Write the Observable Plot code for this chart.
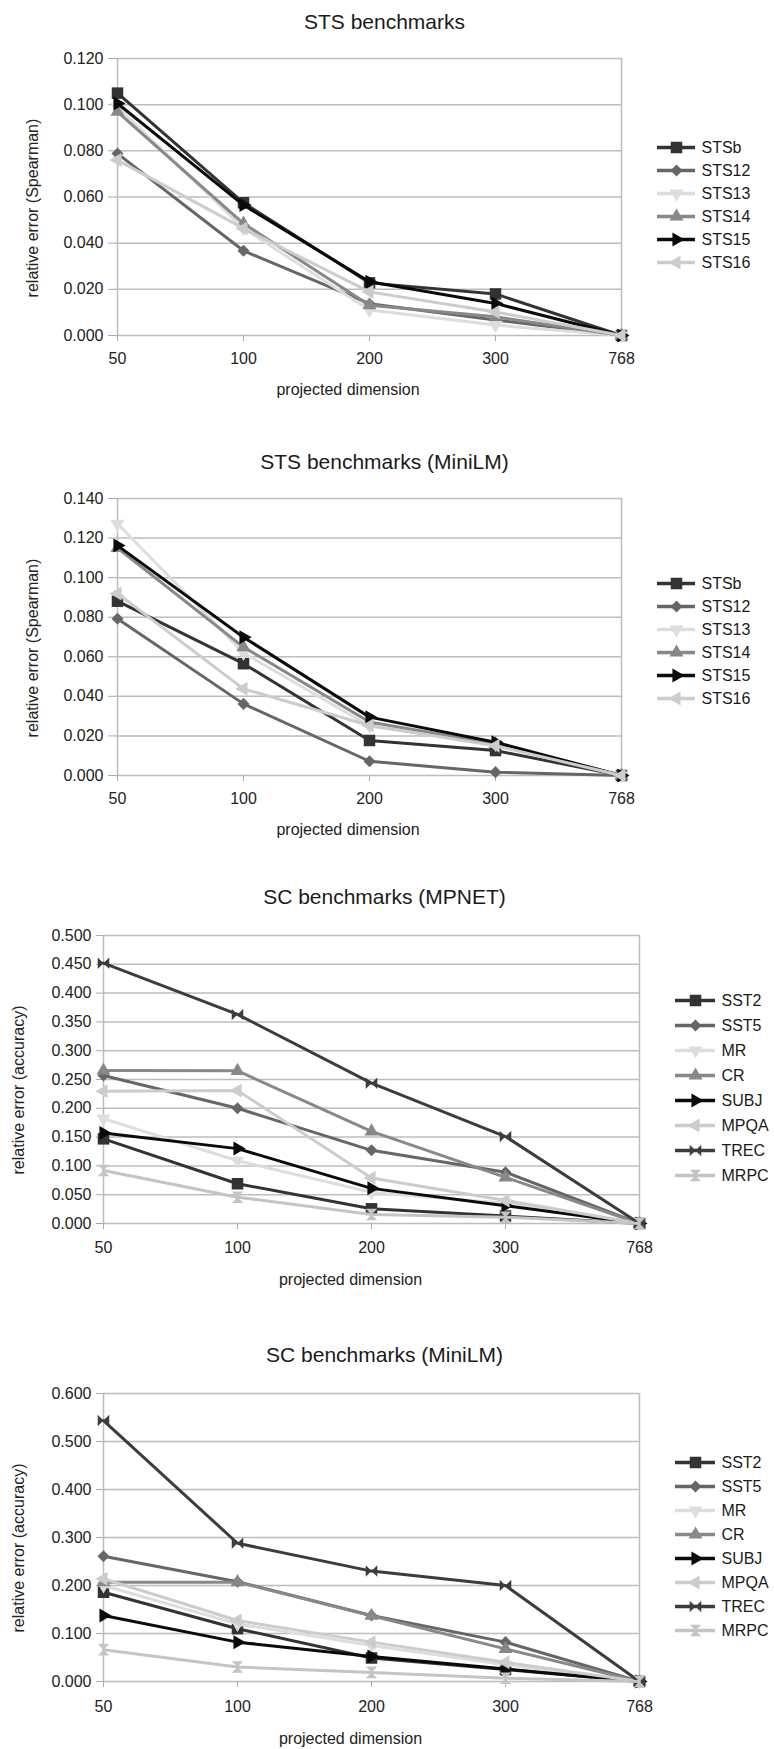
<!DOCTYPE html>
<html>
<head>
<meta charset="utf-8">
<script src="https://cdn.jsdelivr.net/npm/d3@7"></script>
<script src="https://cdn.jsdelivr.net/npm/@observablehq/plot@0.6"></script>
<style>
  html, body { margin: 0; padding: 0; background: #fff; }
  #root { position: relative; width: 774px; height: 1749px; overflow: hidden; font-family: "Liberation Sans", Arial, sans-serif; }
  #root > svg, #root > figure { position: absolute; margin: 0; }
  .ylab { position: absolute; width: 240px; height: 20px; line-height: 20px; text-align: center;
          font-size: 16px; color: #222; transform: rotate(-90deg); transform-origin: 50% 50%; white-space: nowrap; }
</style>
</head>
<body>
<div id="root"></div>
<script>
// ---------- data ----------
const dims = ["50", "100", "200", "300", "768"];

const stsNames = ["STSb", "STS12", "STS13", "STS14", "STS15", "STS16"];
const stsMpnetSTSb  = [0.105, 0.0575, 0.0228, 0.018, 0];
const stsMpnetSTS12 = [0.0788, 0.0367, 0.0138, 0.0067, 0];
const stsMpnetSTS13 = [0.099, 0.0464, 0.011, 0.0045, 0];
const stsMpnetSTS14 = [0.0969, 0.0485, 0.0131, 0.0081, 0];
const stsMpnetSTS15 = [0.1005, 0.0565, 0.0233, 0.0139, 0];
const stsMpnetSTS16 = [0.076, 0.0464, 0.0189, 0.0102, 0];

const stsMiniSTSb  = [0.0881, 0.0565, 0.0177, 0.0126, 0];
const stsMiniSTS12 = [0.0792, 0.0362, 0.0072, 0.0017, 0];
const stsMiniSTS13 = [0.1272, 0.062, 0.025, 0.016, 0];
const stsMiniSTS14 = [0.115, 0.0649, 0.027, 0.016, 0];
const stsMiniSTS15 = [0.1162, 0.0699, 0.0295, 0.0168, 0];
const stsMiniSTS16 = [0.092, 0.0438, 0.0253, 0.015, 0];

const scNames = ["SST2", "SST5", "MR", "CR", "SUBJ", "MPQA", "TREC", "MRPC"];
const scMpnetSST2 = [0.147, 0.069, 0.0255, 0.013, 0];
const scMpnetSST5 = [0.257, 0.200, 0.127, 0.089, 0];
const scMpnetMR   = [0.182, 0.109, 0.054, 0.035, 0];
const scMpnetCR   = [0.2656, 0.265, 0.160, 0.080, 0];
const scMpnetSUBJ = [0.157, 0.130, 0.061, 0.031, 0];
const scMpnetMPQA = [0.2297, 0.231, 0.079, 0.040, 0];
const scMpnetTREC = [0.452, 0.363, 0.2436, 0.151, 0];
const scMpnetMRPC = [0.092, 0.0457, 0.0156, 0.011, 0];

const scMiniSST2 = [0.186, 0.110, 0.049, 0.025, 0];
const scMiniSST5 = [0.261, 0.208, 0.1375, 0.082, 0];
const scMiniMR   = [0.200, 0.120, 0.075, 0.035, 0];
const scMiniCR   = [0.207, 0.207, 0.137, 0.068, 0];
const scMiniSUBJ = [0.1375, 0.082, 0.052, 0.026, 0];
const scMiniMPQA = [0.214, 0.127, 0.082, 0.040, 0];
const scMiniTREC = [0.5437, 0.288, 0.230, 0.200, 0];
const scMiniMRPC = [0.066, 0.030, 0.019, 0.007, 0];

const ticksSts1 = [0, 0.02, 0.04, 0.06, 0.08, 0.10, 0.12];
const ticksSts2 = [0, 0.02, 0.04, 0.06, 0.08, 0.10, 0.12, 0.14];
const ticksSc1 = [0, 0.05, 0.10, 0.15, 0.20, 0.25, 0.30, 0.35, 0.40, 0.45, 0.50];
const ticksSc2 = [0, 0.1, 0.2, 0.3, 0.4, 0.5, 0.6];

// ---------- styles ----------
const bowtie = { draw(ctx, size) { const r = Math.sqrt(size) / 2;
  ctx.moveTo(-r, -r); ctx.lineTo(0, 0); ctx.lineTo(-r, r); ctx.closePath();
  ctx.moveTo(r, -r); ctx.lineTo(0, 0); ctx.lineTo(r, r); ctx.closePath(); } };
const hourglass = { draw(ctx, size) { const r = Math.sqrt(size) / 2;
  ctx.moveTo(-r, -r); ctx.lineTo(r, -r); ctx.lineTo(0, 0); ctx.closePath();
  ctx.moveTo(-r, r); ctx.lineTo(r, r); ctx.lineTo(0, 0); ctx.closePath(); } };

const styleList = [
  {color: "#333333", symbol: "square", r: 6.5, rotate: 0},
  {color: "#666666", symbol: "square", r: 4.8, rotate: 45},
  {color: "#dddddd", symbol: "triangle", r: 5.2, rotate: 180},
  {color: "#888888", symbol: "triangle", r: 5.2, rotate: 0},
  {color: "#0a0a0a", symbol: "triangle", r: 5.2, rotate: 90},
  {color: "#cccccc", symbol: "triangle", r: 5.2, rotate: -90},
  {color: "#3c3c3c", symbol: bowtie, r: 6.5, rotate: 0},
  {color: "#c4c4c4", symbol: hourglass, r: 6.5, rotate: 0}
];

const FONT = "'Liberation Sans', Arial, sans-serif";
const root = document.getElementById("root");

function place(el, left, top) {
  el.style.left = left + "px";
  el.style.top = top + "px";
  root.appendChild(el);
}

function yLabel(text, cx, cy) {
  const d = document.createElement("div");
  d.className = "ylab";
  d.textContent = text;
  place(d, cx - 120, cy - 10);
}

function panel(cfg) {
  const {names, values, frameTop, frameBottom, frameLeft, frameRight, yMax, ticks, title, ylabel, ylabelX} = cfg;
  const marginTop = cfg.marginTop, marginBottom = 70;
  const height = marginTop + (frameBottom - frameTop) + marginBottom;
  const marks = [
    Plot.gridY(ticks, {stroke: "#bdbdbd", strokeOpacity: 1, strokeWidth: 1.5}),
    Plot.ruleX([dims[0], dims[dims.length - 1]], {stroke: "#bdbdbd", strokeWidth: 1.5}),
    Plot.axisY(ticks, {tickSize: 7, tickPadding: 5, tickFormat: d3.format(".3f"), stroke: "#aaaaaa", fill: "#222", label: null, fontSize: 16}),
    Plot.axisX({tickSize: 6, tickPadding: cfg.xPad, stroke: "#aaaaaa", fill: "#222", label: null, fontSize: 16})
  ];
  names.forEach((name, i) => {
    const st = styleList[i];
    const rows = dims.map((d, j) => ({dim: d, value: values[i][j]}));
    marks.push(Plot.line(rows, {x: "dim", y: "value", stroke: st.color, strokeWidth: 3, strokeLinejoin: "round"}));
    marks.push(Plot.dot(rows, {x: "dim", y: "value", symbol: st.symbol, r: st.r, fill: st.color, rotate: st.rotate, stroke: "none"}));
  });
  const cx = (frameLeft + frameRight) / 2;
  marks.push(Plot.text([title], {frameAnchor: "top", dy: cfg.titleDy, dx: 384 - cx, fontSize: 21, lineAnchor: "middle", fill: "#1a1a1a"}));
  marks.push(Plot.text(["projected dimension"], {frameAnchor: "bottom", dy: cfg.xlabDy, dx: -21, fontSize: 16, lineAnchor: "middle", fill: "#222"}));
  const svg = Plot.plot({
    width: 774, height,
    marginTop, marginBottom, marginLeft: frameLeft, marginRight: 774 - frameRight,
    style: {fontFamily: FONT, fontSize: "16px", color: "#222", background: "transparent", overflow: "visible"},
    x: {type: "point", domain: dims, padding: 0, axis: null},
    y: {domain: [0, yMax], axis: null},
    marks
  });
  place(svg, 0, frameTop - marginTop);
  yLabel(ylabel, ylabelX, (frameTop + frameBottom) / 2 + 11);
}

function legend(cfg) {
  const {names, left, top, step, lineLen} = cfg;
  const marks = [];
  names.forEach((name, i) => {
    const st = styleList[i];
    marks.push(Plot.ruleY([name], {stroke: st.color, strokeWidth: 3.5}));
    marks.push(Plot.dot([name], {y: d => d, symbol: st.symbol, r: st.r, fill: st.color, rotate: st.rotate, stroke: "none", frameAnchor: "middle"}));
    marks.push(Plot.text([name], {y: d => d, text: d => d, frameAnchor: "right", textAnchor: "start", dx: 6, fontSize: 16, fill: "#1a1a1a"}));
  });
  const svg = Plot.plot({
    width: lineLen + 80, height: (names.length - 1) * step + 20,
    marginLeft: 0, marginRight: 80, marginTop: 10, marginBottom: 10,
    style: {fontFamily: FONT, fontSize: "16px", background: "transparent", overflow: "visible"},
    y: {type: "point", domain: names, padding: 0, axis: null},
    marks
  });
  place(svg, left, top - 10);
}

panel({names: stsNames, values: [stsMpnetSTSb, stsMpnetSTS12, stsMpnetSTS13, stsMpnetSTS14, stsMpnetSTS15, stsMpnetSTS16],
  frameTop: 58, frameBottom: 335, frameLeft: 115, frameRight: 622, marginTop: 58, yMax: 0.12, ticks: ticksSts1,
  title: "STS benchmarks", ylabel: "relative error (Spearman)", ylabelX: 33, titleDy: -36, xlabDy: 54, xPad: 11});
legend({names: stsNames, left: 657, top: 145, step: 23.8, lineLen: 38});

panel({names: stsNames, values: [stsMiniSTSb, stsMiniSTS12, stsMiniSTS13, stsMiniSTS14, stsMiniSTS15, stsMiniSTS16],
  frameTop: 498, frameBottom: 775, frameLeft: 115, frameRight: 622, marginTop: 60, yMax: 0.14, ticks: ticksSts2,
  title: "STS benchmarks (MiniLM)", ylabel: "relative error (Spearman)", ylabelX: 33, titleDy: -36, xlabDy: 54, xPad: 11});
legend({names: stsNames, left: 657, top: 581, step: 23.7, lineLen: 38});

panel({names: scNames, values: [scMpnetSST2, scMpnetSST5, scMpnetMR, scMpnetCR, scMpnetSUBJ, scMpnetMPQA, scMpnetTREC, scMpnetMRPC],
  frameTop: 935, frameBottom: 1223, frameLeft: 103, frameRight: 639, marginTop: 60, yMax: 0.5, ticks: ticksSc1,
  title: "SC benchmarks (MPNET)", ylabel: "relative error (accuracy)", ylabelX: 19, titleDy: -38, xlabDy: 56, xPad: 12});
legend({names: scNames, left: 675, top: 1000, step: 25, lineLen: 40});

panel({names: scNames, values: [scMiniSST2, scMiniSST5, scMiniMR, scMiniCR, scMiniSUBJ, scMiniMPQA, scMiniTREC, scMiniMRPC],
  frameTop: 1393, frameBottom: 1681, frameLeft: 103, frameRight: 639, marginTop: 60, yMax: 0.6, ticks: ticksSc2,
  title: "SC benchmarks (MiniLM)", ylabel: "relative error (accuracy)", ylabelX: 19, titleDy: -38, xlabDy: 57, xPad: 13});
legend({names: scNames, left: 675, top: 1459, step: 24.9, lineLen: 40});
</script>
</body>
</html>
